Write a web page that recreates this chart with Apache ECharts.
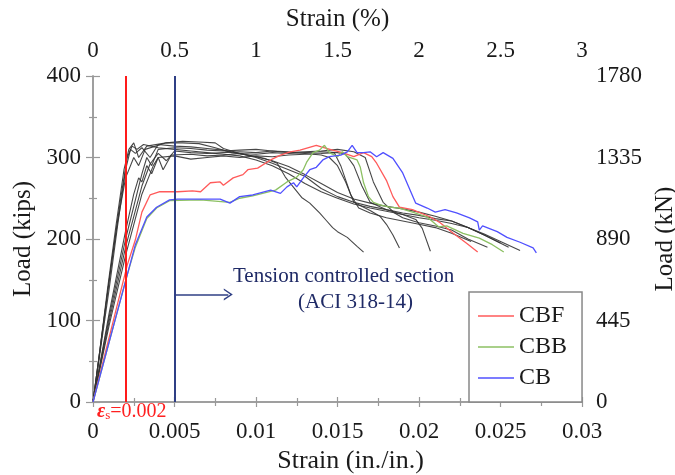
<!DOCTYPE html>
<html><head><meta charset="utf-8">
<script src="https://cdn.jsdelivr.net/npm/echarts@6/dist/echarts.min.js"></script>
<style>html,body{margin:0;padding:0;background:#fff}#c{width:675px;height:475px}</style>
</head><body><div id="c"></div>
<script>
// ---- data: [strain (in./in.), load (kips)] ----
const cbf = [[0,0],[0.0021,168],[0.0026,199],[0.003,233],[0.0035,254],[0.0041,258],[0.0052,258],[0.0061,259],[0.0066,258],[0.0072,269],[0.0078,270],[0.008,266],[0.0086,275],[0.0092,279],[0.0095,285],[0.0101,287],[0.0109,297],[0.0115,303],[0.0121,307],[0.0127,309],[0.0137,315],[0.014,313],[0.0147,309],[0.0153,306],[0.016,301],[0.0166,306],[0.0171,301],[0.0174,293],[0.018,272],[0.0184,252],[0.0188,239],[0.0196,236],[0.0207,227],[0.0213,220],[0.0221,207],[0.0229,195],[0.0236,184]];
const cbb = [[0,0],[0.0021,156],[0.0026,190],[0.0033,225],[0.0039,238],[0.0047,247],[0.0066,248],[0.0084,245],[0.009,250],[0.0098,253],[0.0112,260],[0.0119,270],[0.0125,276],[0.0129,285],[0.0131,294],[0.0135,306],[0.0139,309],[0.0142,315],[0.0145,306],[0.015,301],[0.0153,307],[0.0156,301],[0.0162,297],[0.0164,288],[0.0166,269],[0.0169,252],[0.0172,245],[0.0176,242],[0.0182,239],[0.0188,238],[0.0196,233],[0.0205,227],[0.0212,215],[0.0217,216],[0.0227,207],[0.0237,201],[0.0245,193],[0.0252,184]];
const cb = [[0,0],[0.0021,156],[0.0026,193],[0.0033,227],[0.0039,239],[0.0047,248],[0.0052,249],[0.0066,249],[0.0078,249],[0.0084,244],[0.009,252],[0.0098,254],[0.0109,260],[0.0115,256],[0.0119,264],[0.0123,269],[0.0125,264],[0.0129,275],[0.0133,285],[0.0137,288],[0.0141,297],[0.0145,301],[0.0152,303],[0.0156,307],[0.0159,315],[0.0162,306],[0.0166,306],[0.017,307],[0.0174,301],[0.0178,306],[0.0184,299],[0.019,281],[0.0198,244],[0.0205,238],[0.021,233],[0.0216,236],[0.0223,232],[0.0231,226],[0.0236,221],[0.0237,211],[0.0239,216],[0.0248,209],[0.0254,202],[0.0262,196],[0.027,189],[0.0272,183]];
const k1 = [[0,0],[0.0006,90],[0.0012,180],[0.0017,250],[0.0021,300],[0.0024,314],[0.0027,310],[0.0031,316],[0.004,312],[0.005,310],[0.006,308],[0.007,306],[0.008,304],[0.009,302],[0.01,297],[0.011,290],[0.012,280],[0.013,268],[0.014,258],[0.015,250],[0.016,243],[0.017,238],[0.018,234],[0.019,230],[0.02,226],[0.021,223],[0.022,219],[0.023,214],[0.024,206],[0.025,197],[0.0262,186]];
const k2 = [[0,0],[0.0005,70],[0.001,140],[0.0015,215],[0.002,285],[0.0023,310],[0.0026,305],[0.003,312],[0.0035,300],[0.004,316],[0.005,314],[0.006,313],[0.007,311],[0.008,309],[0.009,305],[0.01,300],[0.011,293],[0.012,285],[0.013,277],[0.014,262],[0.015,252],[0.016,245],[0.017,240],[0.018,236],[0.019,232],[0.02,229],[0.021,225],[0.022,222],[0.023,214],[0.024,205],[0.0255,190]];
const k3 = [[0,0],[0.0004,60],[0.0009,140],[0.0014,215],[0.0019,285],[0.0022,310],[0.0025,318],[0.0028,300],[0.0033,314],[0.0045,318],[0.0055,318],[0.0065,317],[0.0075,312],[0.0085,306],[0.0095,303],[0.0105,299],[0.0113,293],[0.0118,276],[0.0128,251],[0.0133,244],[0.0139,232],[0.0143,223],[0.0147,214],[0.015,209],[0.0156,202],[0.0162,191],[0.0166,184]];
const k4 = [[0,0],[0.001,100],[0.002,190],[0.003,265],[0.0035,292],[0.004,305],[0.0045,296],[0.005,308],[0.006,306],[0.007,305],[0.008,306],[0.009,307],[0.01,306],[0.011,308],[0.012,307],[0.013,305],[0.014,303],[0.0145,300],[0.015,290],[0.0155,270],[0.016,245],[0.017,235],[0.0176,228],[0.018,218],[0.0184,205],[0.0188,189]];
const k5 = [[0,0],[0.001,95],[0.002,180],[0.003,255],[0.0037,290],[0.004,300],[0.0043,285],[0.0048,303],[0.006,304],[0.007,302],[0.008,303],[0.009,305],[0.01,304],[0.011,306],[0.012,305],[0.013,306],[0.014,307],[0.015,306],[0.0155,304],[0.016,290],[0.0165,265],[0.017,245],[0.018,236],[0.019,230],[0.0198,224],[0.0202,213],[0.0207,185]];
const k6 = [[0,0],[0.001,110],[0.002,210],[0.0025,255],[0.0028,275],[0.003,270],[0.0033,290],[0.0036,280],[0.004,300],[0.005,302],[0.006,298],[0.007,300],[0.008,302],[0.009,300],[0.01,302],[0.011,301],[0.012,303],[0.013,304],[0.014,305],[0.0148,306],[0.0152,290],[0.0158,255],[0.0163,238],[0.017,232],[0.018,226],[0.019,222],[0.02,218],[0.021,214],[0.022,207],[0.0232,197]];
const k7 = [[0,0],[0.001,105],[0.002,200],[0.003,280],[0.0033,300],[0.0036,290],[0.004,310],[0.005,312],[0.006,311],[0.007,309],[0.008,308],[0.009,309],[0.01,310],[0.011,308],[0.012,306],[0.013,307],[0.014,308],[0.015,310],[0.016,307],[0.0167,300],[0.0172,270],[0.0178,245],[0.0185,232],[0.019,226],[0.02,220],[0.021,216],[0.022,211],[0.023,200],[0.0242,190]];
const k8 = [[0,0],[0.0005,75],[0.001,150],[0.0015,220],[0.002,275],[0.0025,300],[0.0028,290],[0.0032,310],[0.0045,318],[0.0055,320],[0.0065,319],[0.0075,318],[0.008,311],[0.009,305],[0.01,301],[0.011,296],[0.012,289],[0.013,279],[0.014,268],[0.015,257],[0.016,249],[0.017,244],[0.018,240],[0.019,237],[0.02,233],[0.021,228],[0.022,222],[0.023,214],[0.024,205],[0.025,195]];
const blackSets = [k1,k2,k3,k4,k5,k6,k7,k8];
const epsYield = 0.002;      // εs = 0.002
const epsTension = 0.005;    // tension controlled limit
const arrowLoad = 132;       // kips, arrow level
const arrowEnd = 0.0083;
const bottomTicks = {min:0, max:0.03, interval:0.005};
const topTicks = {min:0, max:3, interval:0.5};
const kipTicks = {min:0, max:400, interval:100};
const kNTicks = {min:0, max:1780, interval:445};

const FONT = 'Liberation Serif';
const AX = '#999';
const TXT = '#1a1a1a';
const chart = echarts.init(document.getElementById('c'), null, {renderer:'canvas'});

function axisCommon(extra){
  return Object.assign({
    type:'value',
    axisLine:{show:true, lineStyle:{color:AX, width:1.5}},
    axisTick:{show:true, length:5, lineStyle:{color:AX, width:1.2}},
    minorTick:{show:true, splitNumber:2, length:4, lineStyle:{color:AX, width:1.2}},
    splitLine:{show:false},
    nameTextStyle:{color:TXT, fontFamily:FONT, fontSize:25},
    nameLocation:'middle'
  }, extra);
}
const lbl = (margin) => ({color:TXT, fontFamily:FONT, fontSize:23, margin:margin, formatter:v => String(+v.toFixed(6))});

const series = [];
blackSets.forEach(d => series.push({type:'line', data:d, symbol:'none', xAxisIndex:0, yAxisIndex:0,
  lineStyle:{color:'#333', width:1.1, opacity:0.9}, silent:true, z:2}));
series.push({name:'CBF', type:'line', data:cbf, symbol:'none', lineStyle:{color:'#ff5a5a', width:1.3}, itemStyle:{color:'#ff5a5a'}, z:3});
series.push({name:'CBB', type:'line', data:cbb, symbol:'none', lineStyle:{color:'#8cc063', width:1.3}, itemStyle:{color:'#8cc063'}, z:3});
series.push({name:'CB', type:'line', data:cb, symbol:'none', lineStyle:{color:'#5050ff', width:1.3}, itemStyle:{color:'#5050ff'}, z:3,
  markLine:{silent:true, symbol:'none', label:{show:false}, animation:false,
    data:[
      [{coord:[epsYield, kipTicks.min], lineStyle:{color:'#ff1a1a', width:2, type:'solid'}}, {coord:[epsYield, kipTicks.max]}],
      [{coord:[epsTension, kipTicks.min], lineStyle:{color:'#2f3f85', width:2, type:'solid'}}, {coord:[epsTension, kipTicks.max]}],
      [{coord:[epsTension, arrowLoad], symbol:'none', lineStyle:{color:'#2f3f85', width:1.5, type:'solid'}},
       {coord:[arrowEnd, arrowLoad], symbol:'path://M0,10 L5,0 L10,10 L8.6,10 L5,2.8 L1.4,10 Z', symbolSize:[12,9]}]
    ]}});

chart.setOption({
  animation:false,
  backgroundColor:'#fff',
  grid:{left:93, right:93, top:76, bottom:73, containLabel:false, outerBoundsMode:'none'},
  xAxis:[
    axisCommon(Object.assign({position:'bottom', name:'Strain (in./in.)', nameGap:43,
      nameTextStyle:{color:TXT, fontFamily:FONT, fontSize:26, padding:[0,0,0,26]},
      axisLabel:lbl(18)}, bottomTicks)),
    axisCommon(Object.assign({position:'top', name:'Strain (%)', nameGap:44,
      axisLabel:lbl(14)}, topTicks))
  ],
  yAxis:[
    axisCommon(Object.assign({position:'left', name:'Load (kips)', nameGap:52, nameRotate:90,
      axisTick:{show:true, length:7, lineStyle:{color:AX, width:1.2}},
      axisLabel:lbl(12)}, kipTicks)),
    axisCommon(Object.assign({position:'right', name:'Load (kN)', nameGap:71, nameRotate:90,
      axisTick:{show:true, length:7, lineStyle:{color:AX, width:1.2}},
      axisLabel:lbl(14)}, kNTicks))
  ],
  legend:{
    data:['CBF','CBB','CB'], orient:'vertical', left:469, top:292,
    padding:[12,15,12,9], itemGap:7, itemWidth:36, itemHeight:14,
    backgroundColor:'#fff', borderColor:'#888', borderWidth:1.5, borderRadius:0,
    textStyle:{color:TXT, fontFamily:FONT, fontSize:24, lineHeight:24},
    icon:'path://M0,6 L36,6 L36,7.4 L0,7.4 Z'
  },
  graphic:[
    {type:'text', left:233, top:266, style:{text:'Tension controlled section', fill:'#1f2a66', font:'21px "Liberation Serif"'}},
    {type:'text', left:298, top:292, style:{text:'(ACI 318-14)', fill:'#1f2a66', font:'21px "Liberation Serif"'}},
    {type:'text', left:97, top:402, style:{
      text:'{e|ε}{s|s}{v|=0.002}', fill:'#ff2020',
      rich:{
        e:{fontFamily:FONT, fontSize:20, fontStyle:'italic', fontWeight:'bold', fill:'#ff2020'},
        s:{fontFamily:FONT, fontSize:13, fill:'#ff2020', padding:[8,0,0,0]},
        v:{fontFamily:FONT, fontSize:20, fill:'#ff2020'}
      }}}
  ],
  series:series
});
</script></body></html>
